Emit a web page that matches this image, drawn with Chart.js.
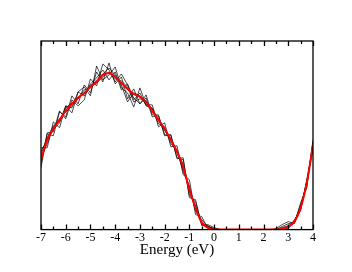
<!DOCTYPE html>
<html><head><meta charset="utf-8">
<script src="https://cdn.jsdelivr.net/npm/chart.js@4"></script>
<style>html,body{margin:0;padding:0;background:#fff;}canvas{display:block;}</style>
</head><body>
<canvas id="c" width="352" height="272"></canvas>
<script>
const energies = [-7,-6.75,-6.5,-6.25,-6,-5.75,-5.5,-5.25,-5,-4.75,-4.5,-4.25,-4,-3.75,-3.5,-3.25,-3,-2.75,-2.5,-2.25,-2,-1.75,-1.5,-1.25,-1,-0.75,-0.5,-0.25,0,0.25,0.5,0.75,1,1.25,1.5,1.75,2,2.25,2.5,2.75,3,3.25,3.5,3.75,4];
const avgDos = [70,90,101,110,119,126,132,137,143,148,155,157,153,147,141,136,133,128,119,110,101,90,78,63,40,22,7,2,0,0,0,0,0,0,0,0,0,0,0,1,3,8,22,47,85];
const dosA = [75,92,104,108,124,122,138,134,146,152,160,150,158,140,146,130,137,124,121,106,103,86,80,58,44,18,10,3,1,0,0,0,0,0,0,0,0,0,0,3,6,7,25,44,88];
const dosB = [62,96,94,118,113,134,126,145,137,158,148,167,146,153,131,141,126,132,113,114,95,95,72,70,34,28,5,4,0,0,0,0,0,0,0,0,0,0,0,0,2,10,19,50,82];
const dosC = [82,82,108,102,124,117,138,143,134,164,150,155,163,142,137,123,142,125,125,103,107,83,84,55,50,15,13,1,0,0,0,0,0,0,0,0,0,0,1,5,8,6,27,42,90];
const dosD = [66,97,98,119,111,130,124,130,151,144,166,160,148,156,145,132,126,135,115,115,94,95,71,72,32,30,4,5,2,0,0,0,0,0,0,0,0,0,0,0,1,9,21,49,80];
const dosE = [72,86,103,111,118,124,131,140,142,150,156,162,155,145,128,137,134,125,122,109,100,89,77,61,42,20,8,2,0,0,0,0,0,0,0,0,0,0,0,2,4,8,23,46,86];
const dosF = [78,91,100,107,122,127,133,136,145,147,153,158,151,149,143,128,131,129,118,111,99,91,79,65,38,24,6,3,1,0,0,0,0,0,0,0,0,0,0,0,3,7,20,48,84];
const xTickLabels = ['-7','-6','-5','-4','-3','-2','-1','0','1','2','3','4'];
const xTitle = 'Energy (eV)';

const pts = arr => arr.map((v,i)=>({x:energies[i], y:v}));
const blackSets = [dosA,dosB,dosC,dosD,dosE,dosF].map(a=>({
  data: pts(a), borderColor:'#000', borderWidth:0.7, pointRadius:0, tension:0, fill:false, order:2
}));
const redSet = {data: pts(avgDos), borderColor:'#ff0000', borderWidth:2, pointRadius:0, cubicInterpolationMode:'monotone', fill:false, order:1};

const frame = {
  id:'frame',
  afterDraw(chart){
    const ctx = chart.ctx, a = chart.chartArea, xs = chart.scales.x;
    ctx.save();
    ctx.strokeStyle = '#000';
    ctx.lineWidth = 1.3;
    ctx.strokeRect(a.left, a.top, a.right-a.left, a.bottom-a.top);
    for (let v=-7; v<=4.001; v+=0.5){
      const px = Math.round(xs.getPixelForValue(v))+0.5;
      const len = Math.abs(v-Math.round(v))<1e-6 ? 5 : 3;
      ctx.beginPath();
      ctx.moveTo(px, a.bottom); ctx.lineTo(px, a.bottom-len);
      ctx.moveTo(px, a.top); ctx.lineTo(px, a.top+len);
      ctx.stroke();
    }
    ctx.restore();
  }
};

new Chart(document.getElementById('c'), {
  type:'line',
  data:{datasets:[...blackSets, redSet]},
  options:{
    responsive:false, animation:false, devicePixelRatio:1,
    layout:{padding:{left:41, right:39, top:41, bottom:13}},
    plugins:{legend:{display:false}, tooltip:{enabled:false}},
    scales:{
      x:{type:'linear', min:-7, max:4,
        grid:{display:false, drawTicks:false},
        border:{display:false},
        ticks:{stepSize:1, padding:1, color:'#000', font:{family:'Liberation Serif', size:12},
          callback:(v)=>{const i=Math.round(v+7); return xTickLabels[i];}},
        title:{display:true, text:xTitle, color:'#000', font:{family:'Liberation Serif', size:15}, padding:{top:-5,bottom:0}}
      },
      y:{type:'linear', min:0, max:189, display:false}
    }
  },
  plugins:[frame]
});
</script>
</body></html>
